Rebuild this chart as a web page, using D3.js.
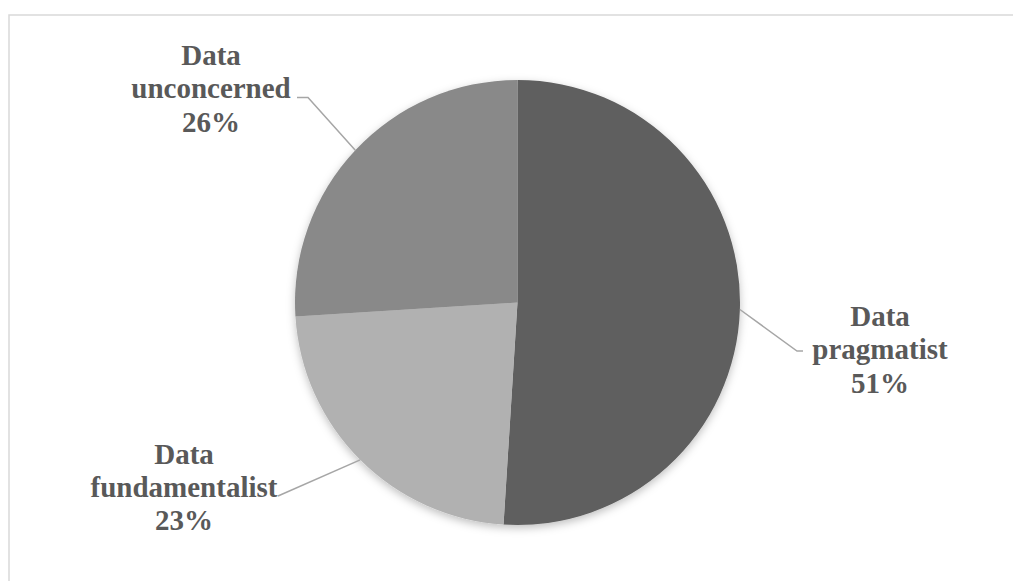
<!DOCTYPE html>
<html><head><meta charset="utf-8">
<script src="https://cdn.jsdelivr.net/npm/d3@7"></script>
<style>html,body{margin:0;padding:0;background:#fff;overflow:hidden}
.lbl{font-family:"Liberation Serif","Times New Roman",Tinos,"DejaVu Serif",serif;font-weight:bold;}</style>
</head><body>
<svg id="c" width="1013" height="581"></svg>
<script>
const categories = ["Data pragmatist", "Data fundamentalist", "Data unconcerned"];
const values = [51, 23, 26];
const labelLines = [["Data","pragmatist","51%"],["Data","fundamentalist","23%"],["Data","unconcerned","26%"]];
const colors = ["#5e5e5e", "#b1b1b1", "#898989"];

const svg = d3.select("#c");
// chart border
svg.append("rect").attr("x", 9).attr("y", 15).attr("width", 1020).attr("height", 600)
  .attr("fill", "#fff").attr("stroke", "#d9d9d9").attr("stroke-width", 1.5);

const defs = svg.append("defs");
const f = defs.append("filter").attr("id","sh").attr("x","-20%").attr("y","-20%").attr("width","140%").attr("height","140%");
f.append("feDropShadow").attr("dx",0).attr("dy",3).attr("stdDeviation",4).attr("flood-color","#000").attr("flood-opacity",0.25);

const cx = 517.5, cy = 302.5, r = 222.5;
const data = categories.map((c,i)=>({c, v: values[i], lines: labelLines[i], color: colors[i]}));
const pie = d3.pie().value(d=>d.v).sort(null);
const arcs = pie(data);
const arc = d3.arc().innerRadius(0).outerRadius(r);

const g = svg.append("g").attr("transform", `translate(${cx},${cy})`);
g.append("g").attr("filter","url(#sh)").selectAll("path").data(arcs).join("path")
  .attr("d", arc).attr("fill", d=>d.data.color);

// label layout (offset of text block center and leader elbow relative to pie center)
const layout = [
  {tx: 880 - cx, base: 326 - cy, elbow: [797 - cx, 351 - cy], end: [803 - cx, 351 - cy]},
  {tx: 184 - cx, base: 463.5 - cy, elbow: [278 - cx, 496 - cy], end: [278 - cx, 496 - cy]},
  {tx: 211 - cx, base: 65 - cy, elbow: [308 - cx, 97.5 - cy], end: [297 - cx, 97.5 - cy]}
];
const lineH = 33.3;
arcs.forEach((a,i)=>{
  const mid = (a.startAngle + a.endAngle)/2;
  const p = [r*Math.sin(mid), -r*Math.cos(mid)];
  const L = layout[i];
  g.append("polyline").attr("points", [p, L.elbow, L.end].map(q=>q.join(",")).join(" "))
    .attr("fill","none").attr("stroke","#a6a6a6").attr("stroke-width",1.5);
  const t = g.append("text").attr("class","lbl").attr("text-anchor","middle")
    .attr("font-size",29).attr("fill","#595959");
  a.data.lines.forEach((s,k)=>{
    t.append("tspan").attr("x", L.tx).attr("y", L.base + k*lineH).text(s);
  });
});
</script>
</body></html>
